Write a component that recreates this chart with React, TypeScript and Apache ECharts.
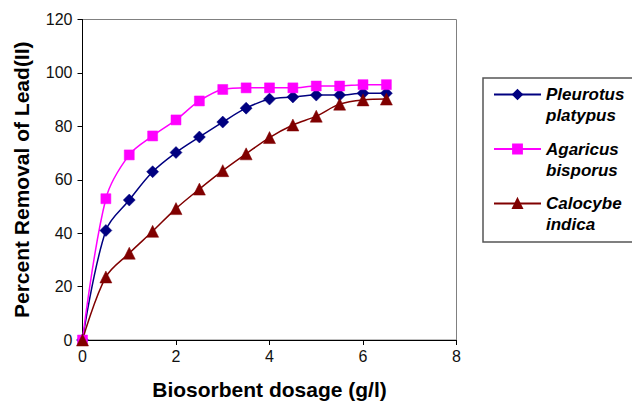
import React, { useEffect, useRef } from "react";
import * as echarts from "echarts";

// Biosorbent dosage (g/l)
const dosage = [0, 0.5, 1, 1.5, 2, 2.5, 3, 3.5, 4, 4.5, 5, 5.5, 6, 6.5];

// Percent removal of Pb(II) for each biomass
const pleurotus = [0, 41, 52.4, 63, 70.2, 76, 81.6, 86.8, 90.2, 91, 91.7, 91.7, 92.4, 92.4];
const agaricus = [0, 52.9, 69.3, 76.4, 82.4, 89.5, 93.8, 94.4, 94.4, 94.4, 95.1, 95.1, 95.6, 95.6];
const calocybe = [0, 23.6, 32.5, 40.7, 49.2, 56.5, 63.4, 69.7, 75.8, 80.5, 83.8, 88.3, 89.9, 90.2];

const seriesNames = ["Pleurotus platypus", "Agaricus bisporus", "Calocybe indica"];
// A blank first line keeps the legend symbol level with the genus name.
const legendLabels: Record<string, string> = {
  "Pleurotus platypus": " \nPleurotus\nplatypus",
  "Agaricus bisporus": " \nAgaricus\nbisporus",
  "Calocybe indica": " \nCalocybe\nindica",
};

const FONT = "'Liberation Sans', Arial, sans-serif";

function pairs(ys: number[]) {
  return dosage.map((x, i) => [x, ys[i]]);
}

export default function App() {
  const ref = useRef<HTMLDivElement>(null);

  useEffect(() => {
    if (!ref.current) return;
    const chart = echarts.init(ref.current, undefined, { renderer: "svg" });

    const lineSeries = (name: string, data: number[], color: string, symbol: string, size: number | number[]) => ({
      name,
      type: "line" as const,
      data: pairs(data),
      smooth: 0.35,
      symbol,
      symbolSize: size,
      showAllSymbol: true,
      lineStyle: { color, width: 1.5 },
      itemStyle: { color, borderColor: color, borderWidth: 0.5 },
    });

    chart.setOption({
      animation: false,
      backgroundColor: "#ffffff",
      grid: {
        left: 82.5,
        top: 19.5,
        right: 175.5,
        bottom: 58,
        show: true,
        borderColor: "#808080",
        borderWidth: 1,
      },
      xAxis: {
        type: "value",
        min: 0,
        max: 8,
        interval: 2,
        name: "Biosorbent dosage (g/l)",
        nameLocation: "middle",
        nameGap: 39,
        nameTextStyle: { fontFamily: FONT, fontSize: 21, fontWeight: "bold", color: "#000" },
        axisLine: { show: true, lineStyle: { color: "#000", width: 1 } },
        axisTick: { show: true, inside: false, length: 5, lineStyle: { color: "#000" } },
        axisLabel: { fontFamily: FONT, fontSize: 16, color: "#111", margin: 8 },
        splitLine: { show: false },
      },
      yAxis: {
        type: "value",
        min: 0,
        max: 120,
        interval: 20,
        name: "Percent Removal of Lead(II)",
        nameLocation: "middle",
        nameGap: 51,
        nameTextStyle: { fontFamily: FONT, fontSize: 21, fontWeight: "bold", color: "#000" },
        axisLine: { show: true, lineStyle: { color: "#000", width: 1 } },
        axisTick: { show: true, inside: false, length: 5, lineStyle: { color: "#000" } },
        axisLabel: { fontFamily: FONT, fontSize: 16, color: "#111", margin: 10 },
        splitLine: { show: false },
      },
      graphic: [
        {
          type: "rect",
          z: 0,
          shape: { x: 483, y: 78, width: 170, height: 164 },
          style: { fill: "#fff", stroke: "#555", lineWidth: 1.5 },
        },
      ],
      legend: {
        orient: "vertical",
        left: 493,
        top: 63,
        padding: 0,
        itemGap: -8.5,
        itemWidth: 47,
        itemHeight: 11,
        data: seriesNames,
        formatter: (name: string) => legendLabels[name] ?? name,
        textStyle: {
          fontFamily: FONT,
          fontSize: 17,
          fontWeight: "bold",
          fontStyle: "italic",
          color: "#000",
          lineHeight: 21,
        },
      },
      series: [
        lineSeries(seriesNames[0], pleurotus, "#000080", "diamond", 12),
        lineSeries(seriesNames[1], agaricus, "#ff00ff", "rect", 10),
        lineSeries(seriesNames[2], calocybe, "#800000", "triangle", 12),
      ],
    });

    return () => chart.dispose();
  }, []);

  return (
    <div
      ref={ref}
      style={{ position: "fixed", left: 0, top: 0, width: 632, height: 405 }}
    />
  );
}
